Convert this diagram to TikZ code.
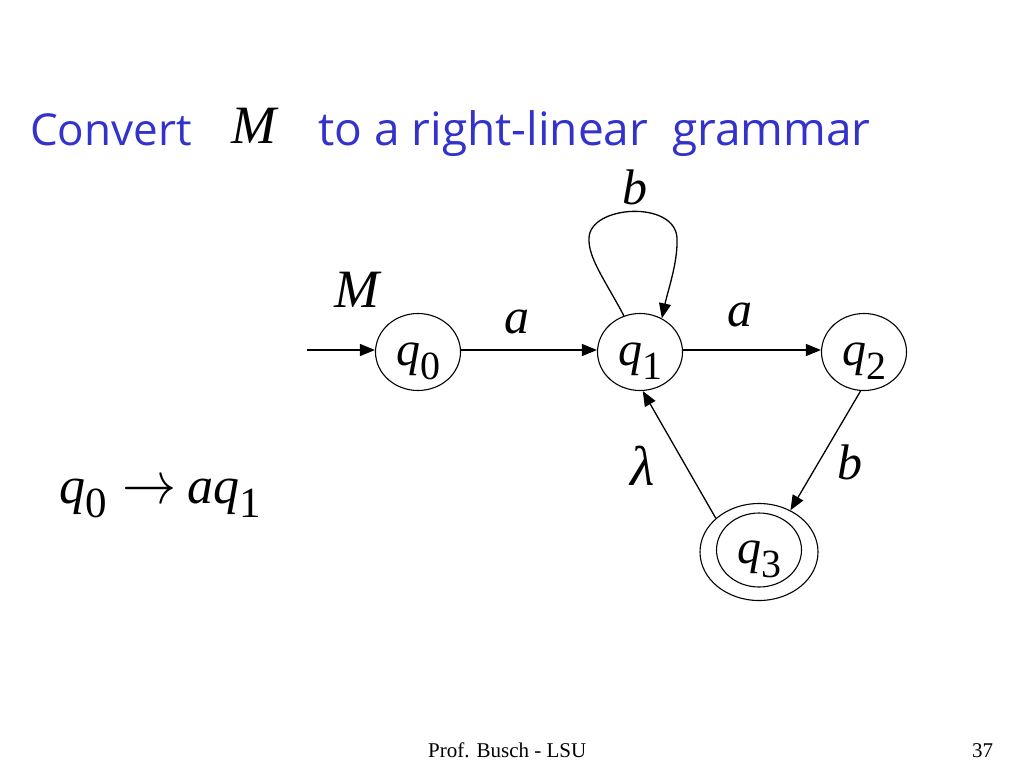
\documentclass[tikz,border=0pt]{standalone}
\usepackage{fontspec}
\usepackage{graphicx}
\setmainfont{Liberation Serif}
\newfontfamily\titlefont{Open Sans}
\usetikzlibrary{shapes.geometric,arrows.meta}
\definecolor{titleblue}{RGB}{51,51,204}
\newcommand{\qsub}[1]{\textit{q}\raisebox{-14pt}{\fontsize{40}{40}\selectfont #1}}
\begin{document}
\begin{tikzpicture}[x=1pt,y=-1pt,
  state/.style={ellipse,draw,line width=1.1pt,minimum width=85pt,minimum height=77pt,inner sep=0pt,text height=26pt,text depth=0pt,font=\fontsize{48}{52}\selectfont},
  edge/.style={line width=1.3pt,-{Triangle[length=15pt,width=12pt]}},
  lbl/.style={font=\fontsize{50}{54}\selectfont\itshape,inner sep=0pt},
  ttl/.style={font=\fontsize{46}{50}\selectfont\titlefont,text=titleblue,inner sep=0pt,anchor=base west},
  foot/.style={font=\fontsize{21}{24}\selectfont,inner sep=0pt,anchor=base west}]
\useasboundingbox (0,0) rectangle (1024,768);
% title
\node[ttl,font=\fontsize{44}{48}\selectfont\titlefont] (t1) at (30,145) {Convert};
\node[lbl,anchor=base west,font=\fontsize{54}{58}\selectfont\itshape] (tM) at (231,143) {M};
\node[ttl] (t2) at (318,145) {to a right-linear\ \ grammar};
% states
\node[state] (q0) at (418,352) {\qsub{0}};
\node[state] (q1) at (640,352) {\qsub{1}};
\node[state] (q2) at (864,352) {\qsub{2}};
\node[state,minimum width=118pt,minimum height=97pt] (q3o) at (759,552) {};
\node[state,minimum height=74pt] (q3) at (759,550) {\qsub{3}};
% labels
\node[lbl,font=\fontsize{54}{58}\selectfont\itshape] (M) at (357,290) {M};
\node[lbl] (la1) at (517,322) {a};
\node[lbl] (la2) at (740,315) {a};
\node[lbl] (lb1) at (635,187) {b};
\node[lbl] (lb2) at (850,462) {b};
\node[lbl,font=\fontsize{56}{60}\selectfont\itshape] (llam) at (643,466) {λ};
% edges
\coordinate (start) at (307,350);
\draw[edge] (start) -- (q0.west |- start);
\draw[edge] (q0.east |- start) -- (q1.west |- start);
\draw[edge] (q1.east |- start) -- (q2.west |- start);
\draw[edge] (q1.114) .. controls (605,280) and (588,258) .. (589,238)
   .. controls (590,205) and (675,200) .. (677,238)
   .. controls (678,262) and (668,290) .. (q1.57);
\draw[edge] (q2.-95) -- (q3o.53);
\draw[edge] (q3o.142) -- (q1.-86);
% grammar
\node[anchor=base west,inner sep=0pt,font=\fontsize{52}{56}\selectfont] (g) at (59,503) {\textit{q}\raisebox{-14pt}{\fontsize{43}{43}\selectfont 0}\hspace{16pt}\raisebox{0pt}{\resizebox*{54pt}{22pt}{$\rightarrow$}}\hspace{11pt}\textit{aq}\raisebox{-14pt}{\fontsize{43}{43}\selectfont 1}};
% footer
\node[foot] (f1) at (428,757) {Prof. Busch - LSU};
\node[foot] (f2) at (972,757) {37};
\end{tikzpicture}
\end{document}
